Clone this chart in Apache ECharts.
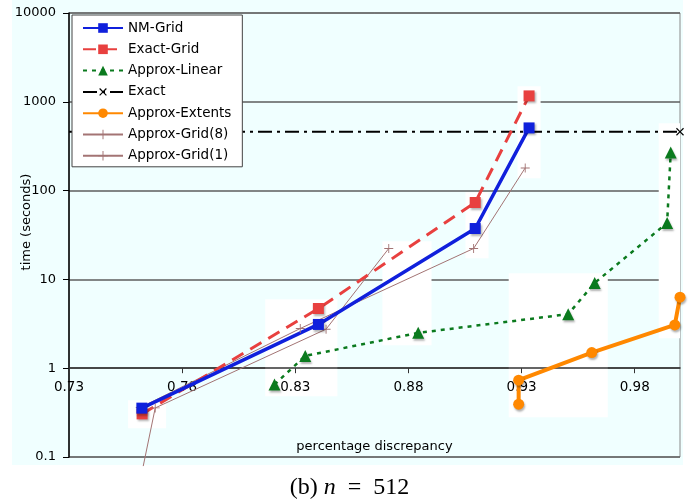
<!DOCTYPE html>
<html>
<head>
<meta charset="utf-8">
<script src="https://cdn.jsdelivr.net/npm/echarts@6/dist/echarts.min.js"></script>
<style>
html,body{margin:0;padding:0;background:#fff;}
#c{width:699px;height:499px;}
</style>
</head>
<body>
<div id="c"></div>
<script>
// ---- data ----
const xTicks = [0.73, 0.78, 0.83, 0.88, 0.93, 0.98];
const yTicks = [0.1, 1, 10, 100, 1000, 10000];

const nmGridX = [0.7622, 0.8402, 0.9095, 0.9333];
const nmGridY = [0.355, 3.11, 37.4, 508];

const exactGridX = [0.7623, 0.8402, 0.9095, 0.9333];
const exactGridY = [0.306, 4.70, 73.5, 1165];

const approxLinearX = [0.8208, 0.8344, 0.8843, 0.9506, 0.9623, 0.9943, 0.9959];
const approxLinearY = [0.655, 1.375, 2.50, 4.06, 9.13, 43.3, 269];

const exactX = [0.73, 1.0];
const exactY = [460, 460];

const approxExtentsX = [0.9287, 0.9287, 0.9610, 0.9977, 1.0];
const approxExtentsY = [0.393, 0.732, 1.50, 3.07, 6.30];

const approxGrid8X = [0.7615, 0.8322, 0.9088, 0.9316];
const approxGrid8Y = [0.361, 2.80, 22.3, 180];

const approxGrid1X = [0.7628, 0.7681, 0.8436, 0.8713];
const approxGrid1Y = [0.079, 0.357, 2.75, 22.3];

// white background patches (data coords: x1, y1, x2, y2)
const whiteBoxes = [
  [0.7561, 0.436, 0.7729, 0.211],
  [0.8167, 5.98, 0.8486, 0.484],
  [0.8685, 26.9, 0.8902, 1.815],
  [0.9052, 95.9, 0.9154, 17.3],
  [0.9282, 1499, 0.9384, 138],
  [0.9243, 11.7, 0.9681, 0.281],
  [0.9906, 574, 1.0, 2.18]
];

// ---- chart ----
const zip = (xs, ys) => xs.map((x, i) => [x, ys[i]]);
const FONT = 'DejaVu Sans';
const shadow = {shadowColor: 'rgba(0,0,0,0.3)', shadowOffsetX: 1, shadowOffsetY: 2, shadowBlur: 2};
const PLUS = 'path://M4.5,0h1v4.5h4.5v1h-4.5v4.5h-1v-4.5h-4.5v-1h4.5z';
const CROSS = 'path://M4.4,0h1.2v4.4h4.4v1.2h-4.4v4.4h-1.2v-4.4h-4.4v-1.2h4.4z';

const chart = echarts.init(document.getElementById('c'), null, {renderer: 'canvas'});

const exactData = zip(exactX, exactY).map((p, i) => i === 0 ? {value: p, symbol: 'none'} : {value: p});
const grid1Data = zip(approxGrid1X, approxGrid1Y).map((p, i) => i === 0 ? {value: p, symbol: 'none'} : {value: p});

chart.setOption({
  animation: false,
  backgroundColor: '#ffffff',
  graphic: [
    {type: 'rect', z: -10, shape: {x: 12, y: 0, width: 671, height: 465}, style: {fill: '#f0ffff'}, silent: true},
    {type: 'text', z: 10, x: 27, y: 222, rotation: Math.PI / 2,
     style: {text: 'time (seconds)', font: '13px "DejaVu Sans"', fill: '#000', align: 'center', verticalAlign: 'middle'}}
  ],
  title: {
    text: '{a|(b) }{i|n}{a|  =  512}',
    left: 'center',
    top: 471,
    textStyle: {
      fontWeight: 'normal',
      rich: {
        a: {fontFamily: 'Liberation Serif', fontSize: 24, fontWeight: 'normal', color: '#000'},
        i: {fontFamily: 'Liberation Serif', fontSize: 24, fontWeight: 'normal', fontStyle: 'italic', color: '#000'}
      }
    }
  },
  legend: {
    orient: 'vertical',
    left: 72,
    top: 15,
    itemWidth: 40,
    itemHeight: 12,
    itemGap: 7.3,
    padding: [6, 11, 4, 10],
    backgroundColor: '#ffffff',
    borderColor: '#444',
    borderWidth: 1,
    borderRadius: 0,
    textStyle: {fontFamily: FONT, fontSize: 13.5, color: '#000'},
    data: ['NM-Grid', 'Exact-Grid', 'Approx-Linear', 'Exact', 'Approx-Extents', 'Approx-Grid(8)', 'Approx-Grid(1)']
  },
  grid: {
    left: 69, right: 19, top: 13, bottom: 42,
    show: true, borderColor: '#8a8a8a', borderWidth: 1, backgroundColor: 'transparent'
  },
  xAxis: {
    type: 'value',
    min: 0.73,
    max: 1.0,
    position: 'bottom',
    offset: -88.8,
    z: 3,
    name: 'percentage discrepancy',
    nameLocation: 'middle',
    nameGap: 72,
    nameTextStyle: {fontFamily: FONT, fontSize: 13, color: '#000'},
    axisLine: {onZero: false, lineStyle: {color: '#333', width: 1.5}},
    axisTick: {show: true, length: 5, inside: false, customValues: xTicks, lineStyle: {color: '#333', width: 1}},
    axisLabel: {
      customValues: xTicks,
      margin: 12,
      fontFamily: FONT, fontSize: 13.5, color: '#000',
      formatter: v => (+v).toFixed(2)
    },
    splitLine: {show: false}
  },
  yAxis: {
    type: 'log',
    logBase: 10,
    min: 0.1,
    max: 10000,
    axisLine: {show: true, lineStyle: {color: '#000', width: 1.5}},
    axisTick: {show: true, length: 6, inside: false, lineStyle: {color: '#000', width: 1}},
    axisLabel: {
      margin: 13, fontFamily: FONT, fontSize: 13, color: '#000',
      formatter: v => String(+(+v).toPrecision(6))
    },
    splitLine: {show: true, lineStyle: {color: '#5e5e5e', width: 1.5}},
    minorTick: {show: false}
  },
  series: [
    {
      type: 'line', name: 'patches', z: 1, data: [], silent: true,
      markArea: {
        silent: true,
        itemStyle: {color: '#ffffff', opacity: 1},
        data: whiteBoxes.map(b => [{coord: [b[0], b[1]]}, {coord: [b[2], b[3]]}])
      }
    },
    {
      type: 'line', name: 'Approx-Grid(8)', data: zip(approxGrid8X, approxGrid8Y),
      symbol: PLUS, symbolSize: 9, showAllSymbol: true,
      lineStyle: {color: '#a37474', width: 1},
      itemStyle: {color: '#a37474'}
    },
    {
      type: 'line', name: 'Approx-Grid(1)', data: grid1Data, clip: false,
      symbol: PLUS, symbolSize: 9, showAllSymbol: true,
      lineStyle: {color: '#a37474', width: 1},
      itemStyle: {color: '#a37474'}
    },
    {
      type: 'line', name: 'Exact', data: exactData,
      symbol: CROSS, symbolRotate: 45, symbolSize: 10, showAllSymbol: true,
      lineStyle: {color: '#000', width: 2.2, type: [14, 5, 3, 5]},
      itemStyle: {color: '#000'}
    },
    {
      type: 'line', name: 'Approx-Linear', data: zip(approxLinearX, approxLinearY),
      symbol: 'triangle', symbolSize: 12, showAllSymbol: true,
      lineStyle: {color: '#0b7a1e', width: 2.5, type: [4, 5]},
      itemStyle: Object.assign({color: '#0b7a1e'}, shadow)
    },
    {
      type: 'line', name: 'Approx-Extents', data: zip(approxExtentsX, approxExtentsY),
      symbol: 'circle', symbolSize: 11, showAllSymbol: true,
      lineStyle: {color: '#ff8800', width: 4},
      itemStyle: Object.assign({color: '#ff8800'}, shadow)
    },
    {
      type: 'line', name: 'Exact-Grid', data: zip(exactGridX, exactGridY),
      symbol: 'rect', symbolSize: 11, showAllSymbol: true,
      lineStyle: {color: '#e8403f', width: 3, type: [13, 8]},
      itemStyle: Object.assign({color: '#e8403f'}, shadow)
    },
    {
      type: 'line', name: 'NM-Grid', data: zip(nmGridX, nmGridY),
      symbol: 'rect', symbolSize: 11, showAllSymbol: true,
      lineStyle: {color: '#1020dc', width: 3.5},
      itemStyle: Object.assign({color: '#1020dc'}, shadow)
    }
  ]
});
</script>
</body>
</html>
